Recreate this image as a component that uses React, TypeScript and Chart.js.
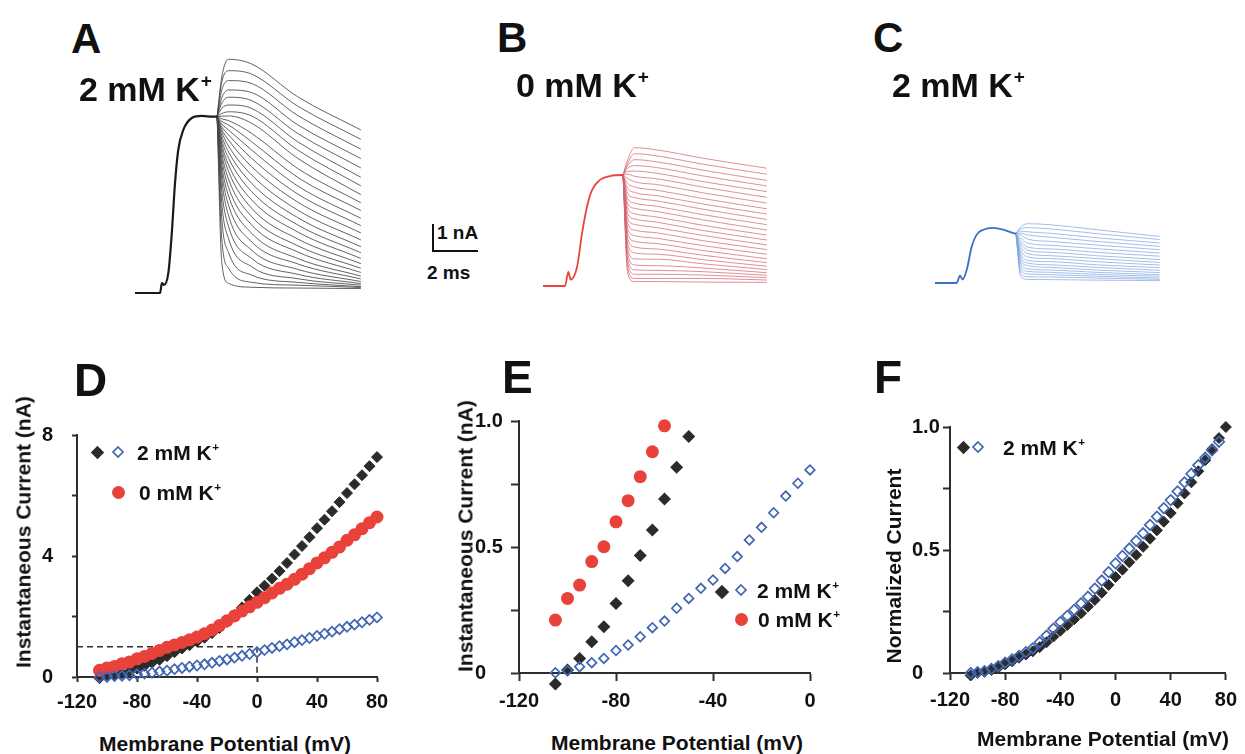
import React, { useEffect, useRef } from 'react';
import { Chart, registerables } from 'chart.js';

Chart.register(...registerables);

const FONT = '"Liberation Sans", Arial, Helvetica, sans-serif';
const INK = '#111111';
const AXIS = '#2e2e2e';
const BLACK = '#2b2b2b';
const RED = '#e8423b';
const BLUE = '#4066b4';

// ---------------- Panels A–C : current traces (time ms, current nA) ----------------
const tailDt = [0.2, 0.5, 1.5, 3.5, 6.25];

const aBaseT = [0, 1.09, 1.17, 1.26, 1.45, 1.6, 1.74, 1.88, 2.1, 2.47, 2.9, 3.39, 3.57];
const aBaseI = [0, 0, 0.38, 0.31, 0.77, 2.31, 4.23, 5.5, 6.27, 6.73, 6.81, 6.78, 6.78];
const aTail02 = [8.3, 8.1, 7.8, 7.5, 7.3, 7.1, 6.9, 6.8, 6.7, 6.6, 6.5, 6.4, 6.3, 6.2, 6.05, 5.9, 5.75, 5.6, 5.4, 5.2, 4.95, 4.7, 4.4, 4.0, 3.5, 2.9, 2.1, 1.2];
const aTail05 = [8.99, 8.55, 8.17, 7.81, 7.53, 7.23, 6.97, 6.81, 6.63, 6.46, 6.27, 6.08, 5.88, 5.65, 5.42, 5.18, 4.92, 4.67, 4.37, 4.06, 3.73, 3.37, 2.97, 2.55, 2.08, 1.55, 0.95, 0.37];
const aTail15 = [8.81, 8.42, 8.06, 7.71, 7.4, 7.1, 6.81, 6.53, 6.14, 5.82, 5.5, 5.18, 4.86, 4.54, 4.22, 3.9, 3.58, 3.26, 2.94, 2.62, 2.3, 1.97, 1.65, 1.33, 1.01, 0.69, 0.41, 0.22];
const aTail35 = [7.55, 7.19, 6.83, 6.47, 6.14, 5.82, 5.5, 5.18, 4.79, 4.45, 4.12, 3.81, 3.5, 3.19, 2.9, 2.62, 2.35, 2.08, 1.82, 1.58, 1.33, 1.12, 0.91, 0.72, 0.55, 0.41, 0.3, 0.19];
const aTailEnd = [6.27, 5.91, 5.53, 5.17, 4.81, 4.45, 4.12, 3.78, 3.47, 3.17, 2.87, 2.59, 2.31, 2.04, 1.78, 1.55, 1.33, 1.13, 0.95, 0.79, 0.65, 0.54, 0.44, 0.36, 0.3, 0.24, 0.21, 0.17];

const bBaseT = [0, 0.96, 1.1, 1.2, 1.48, 1.7, 1.91, 2.13, 2.48, 2.91, 3.43, 3.48];
const bBaseI = [0, 0, 0.54, 0.25, 0.73, 2.04, 3.04, 3.69, 4.08, 4.23, 4.27, 4.27];
const bTail02 = [4.85, 4.72, 4.63, 4.53, 4.4, 4.3, 4.14, 3.95, 3.76, 3.56, 3.37, 3.18, 2.99, 2.8, 2.6, 2.41, 2.22, 2.03, 1.83, 1.64, 1.45, 1.26, 1.06, 0.87, 0.68, 0.49];
const bTail05 = [5.32, 5.09, 4.86, 4.63, 4.42, 4.22, 4.01, 3.81, 3.6, 3.4, 3.19, 2.99, 2.78, 2.58, 2.37, 2.15, 1.94, 1.72, 1.5, 1.27, 1.04, 0.81, 0.62, 0.45, 0.29, 0.17];
const bTail15 = [5.23, 5.0, 4.77, 4.55, 4.33, 4.12, 3.9, 3.68, 3.47, 3.27, 3.06, 2.86, 2.65, 2.45, 2.24, 2.04, 1.83, 1.63, 1.42, 1.22, 1.03, 0.78, 0.6, 0.45, 0.29, 0.17];
const bTail35 = [4.91, 4.68, 4.45, 4.23, 4.01, 3.8, 3.58, 3.36, 3.15, 2.95, 2.74, 2.54, 2.33, 2.13, 1.94, 1.74, 1.55, 1.36, 1.18, 1.01, 0.85, 0.69, 0.55, 0.42, 0.29, 0.15];
const bTailEnd = [4.53, 4.3, 4.06, 3.85, 3.63, 3.41, 3.19, 2.97, 2.77, 2.56, 2.36, 2.15, 1.96, 1.77, 1.58, 1.4, 1.22, 1.05, 0.9, 0.76, 0.63, 0.51, 0.41, 0.32, 0.23, 0.14];

const cBaseT = [0, 0.94, 1.09, 1.2, 1.38, 1.6, 1.81, 2.1, 2.53, 2.97, 3.4, 3.52];
const cBaseI = [0, 0, 0.28, 0.13, 0.51, 1.41, 1.86, 2.05, 2.12, 2.05, 1.92, 1.9];
const cTail02 = [2.15, 2.08, 2.0, 1.92, 1.85, 1.74, 1.64, 1.54, 1.41, 1.28, 1.15, 1.03, 0.9, 0.77, 0.64, 0.51, 0.38, 0.26];
const cTail05 = [2.28, 2.13, 1.97, 1.85, 1.69, 1.54, 1.38, 1.26, 1.13, 1.0, 0.87, 0.77, 0.67, 0.55, 0.45, 0.35, 0.24, 0.14];
const cTail15 = [2.24, 2.08, 1.91, 1.76, 1.6, 1.45, 1.31, 1.18, 1.05, 0.94, 0.82, 0.7, 0.6, 0.5, 0.41, 0.32, 0.23, 0.13];
const cTail35 = [2.05, 1.9, 1.74, 1.6, 1.46, 1.32, 1.18, 1.05, 0.94, 0.82, 0.7, 0.6, 0.5, 0.41, 0.33, 0.26, 0.19, 0.11];
const cTailEnd = [1.79, 1.67, 1.54, 1.41, 1.28, 1.15, 1.03, 0.9, 0.79, 0.69, 0.59, 0.49, 0.4, 0.32, 0.26, 0.19, 0.14, 0.09];

// trace axes ranges (ms, nA)
const TRACE_X = [-0.435, 10.435];
const TRACE_Y = [-0.462, 9.731];

// ---------------- Panels D–F : I–V relations ----------------
const dVolt = [-105, -100, -95, -90, -85, -80, -75, -70, -65, -60, -55, -50, -45, -40, -35, -30, -25, -20, -15, -10, -5, 0, 5, 10, 15, 20, 25, 30, 35, 40, 45, 50, 55, 60, 65, 70, 75, 80];
const dBlack2 = [-0.04, 0.01, 0.06, 0.12, 0.18, 0.28, 0.37, 0.47, 0.57, 0.69, 0.82, 0.94, 1.05, 1.17, 1.3, 1.45, 1.62, 1.82, 2.05, 2.3, 2.55, 2.8, 3.02, 3.25, 3.5, 3.77, 4.05, 4.33, 4.62, 4.92, 5.2, 5.48, 5.78, 6.08, 6.37, 6.67, 6.97, 7.27];
const dRed0 = [0.22, 0.3, 0.35, 0.44, 0.5, 0.6, 0.68, 0.78, 0.88, 0.98, 1.06, 1.14, 1.23, 1.32, 1.43, 1.55, 1.7, 1.86, 2.02, 2.18, 2.32, 2.47, 2.62, 2.78, 2.93, 3.07, 3.23, 3.4, 3.58, 3.77, 3.94, 4.12, 4.3, 4.52, 4.7, 4.9, 5.1, 5.29];
const dBlue2 = [0.0, 0.01, 0.03, 0.04, 0.06, 0.09, 0.11, 0.14, 0.18, 0.21, 0.26, 0.3, 0.34, 0.38, 0.42, 0.47, 0.53, 0.58, 0.64, 0.7, 0.76, 0.82, 0.89, 0.96, 1.02, 1.08, 1.15, 1.22, 1.29, 1.36, 1.43, 1.5, 1.58, 1.66, 1.73, 1.81, 1.89, 1.97];

const eVolt = [-105, -100, -95, -90, -85, -80, -75, -70, -65, -60, -55, -50, -45, -40, -35, -30, -25, -20, -15, -10, -5, 0];
const eBlack2 = [-0.044, 0.012, 0.058, 0.124, 0.184, 0.276, 0.366, 0.466, 0.567, 0.69, 0.816, 0.938];
const eRed0 = [0.21, 0.296, 0.349, 0.442, 0.501, 0.6, 0.684, 0.779, 0.878, 0.981];
const eBlue2 = [0.001, 0.009, 0.025, 0.041, 0.058, 0.089, 0.111, 0.144, 0.18, 0.206, 0.257, 0.296, 0.336, 0.369, 0.415, 0.462, 0.528, 0.578, 0.636, 0.702, 0.753, 0.806];
const E_X = [-120, 0];
const E_Y = [0, 1];

const fVolt = dVolt;
const fBlack2 = [-0.01, 0.0, 0.005, 0.012, 0.022, 0.035, 0.048, 0.062, 0.075, 0.088, 0.105, 0.125, 0.148, 0.172, 0.195, 0.218, 0.243, 0.27, 0.297, 0.326, 0.358, 0.39, 0.42, 0.45, 0.48, 0.513, 0.546, 0.58, 0.615, 0.65, 0.69, 0.73, 0.775, 0.82, 0.865, 0.91, 0.955, 1.0];
const fBlue2 = [0.0, 0.003, 0.008, 0.017, 0.028, 0.042, 0.055, 0.07, 0.085, 0.1, 0.125, 0.152, 0.18, 0.207, 0.232, 0.257, 0.283, 0.31, 0.343, 0.376, 0.41, 0.446, 0.476, 0.506, 0.537, 0.568, 0.602, 0.636, 0.67, 0.703, 0.738, 0.775, 0.81, 0.845, 0.875, 0.905, 0.94];

type Pt = { x: number; y: number };
const pts = (xs: number[], ys: number[]): Pt[] => ys.map((y, i) => ({ x: xs[i], y }));

function TracePanel(props: any) {
  const ref = useRef<HTMLCanvasElement | null>(null);
  useEffect(() => {
    const { baseT, baseI, tails } = props;
    const stepT = baseT[baseT.length - 1];
    const stepI = baseI[baseI.length - 1];
    const datasets: any[] = [
      {
        data: pts(baseT, baseI),
        showLine: true,
        borderColor: props.baseColor,
        borderWidth: props.baseWidth,
        pointRadius: 0,
        cubicInterpolationMode: 'monotone',
      },
    ];
    for (let k = 0; k < tails[0].length; k++) {
      datasets.push({
        data: [{ x: stepT, y: stepI }, ...tailDt.map((dt: number, j: number) => ({ x: stepT + dt, y: tails[j][k] }))],
        showLine: true,
        borderColor: props.tailColor,
        borderWidth: 1,
        pointRadius: 0,
        cubicInterpolationMode: 'monotone',
      });
    }
    const chart = new Chart(ref.current as HTMLCanvasElement, {
      type: 'scatter',
      data: { datasets },
      options: {
        animation: false,
        responsive: false,
        events: [],
        layout: { padding: 0 },
        plugins: { legend: { display: false }, tooltip: { enabled: false } },
        scales: {
          x: { type: 'linear', display: false, min: TRACE_X[0], max: TRACE_X[1] },
          y: { type: 'linear', display: false, min: TRACE_Y[0], max: TRACE_Y[1] },
        },
      } as any,
    });
    return () => chart.destroy();
  }, []);
  return (
    <canvas
      ref={ref}
      width={250}
      height={265}
      style={{ position: 'absolute', left: props.left, top: props.top, width: 250, height: 265 }}
    />
  );
}

function IVPanel(props: any) {
  const ref = useRef<HTMLCanvasElement | null>(null);
  useEffect(() => {
    const { width, height, area, labelLeft } = props;
    const tickFont = { family: FONT, size: 20, weight: 'bold' };
    const grid = { drawOnChartArea: false, drawTicks: true, tickLength: props.tickLen, tickColor: AXIS, tickWidth: 2 };
    const border = { display: true, color: AXIS, width: 2 };
    const chart = new Chart(ref.current as HTMLCanvasElement, {
      type: 'scatter',
      data: { datasets: props.datasets },
      options: {
        animation: false,
        responsive: false,
        events: [],
        layout: { padding: { left: labelLeft, top: area[1], right: width - area[2], bottom: 0 } },
        plugins: { legend: { display: false }, tooltip: { enabled: false } },
        scales: {
          x: {
            type: 'linear',
            min: -120,
            max: props.xMax,
            afterFit: (s: any) => { s.height = height - area[3]; },
            ticks: { stepSize: 40, autoSkip: false, maxRotation: 0, font: tickFont, color: INK, padding: props.xPad },
            grid,
            border,
          },
          y: {
            type: 'linear',
            min: 0,
            max: props.yMax,
            afterFit: (s: any) => { s.width = area[0] - labelLeft; },
            ticks: {
              stepSize: props.yStep,
              autoSkip: false,
              font: tickFont,
              color: INK,
              padding: props.yPad,
              crossAlign: props.yAlign,
              callback: (v: any) => props.yFmt(Number(v)),
            },
            grid,
            border,
          },
        },
      } as any,
    });
    return () => chart.destroy();
  }, []);
  return (
    <canvas
      ref={ref}
      width={props.width}
      height={props.height}
      style={{ position: 'absolute', left: props.left, top: props.top, width: props.width, height: props.height }}
    />
  );
}

const filledDiamond = (data: Pt[], r: number, reach = 1, edge = BLACK) => ({
  data, pointStyle: 'rectRot', pointRadius: r, pointBackgroundColor: BLACK, pointBorderColor: edge, pointBorderWidth: reach, clip: false,
});
const openDiamond = (data: Pt[], r: number) => ({
  data, pointStyle: 'rectRot', pointRadius: r, pointBackgroundColor: 'rgba(255,255,255,0)', pointBorderColor: BLUE, pointBorderWidth: 1.7, clip: false,
});
const redCircle = (data: Pt[], r: number) => ({
  data, pointStyle: 'circle', pointRadius: r, pointBackgroundColor: RED, pointBorderColor: RED, pointBorderWidth: 0, clip: false,
});

const Label = ({ x, capTop, size, children }: any) => (
  <div
    style={{
      position: 'absolute', left: x, top: capTop - 0.13 * size, fontFamily: FONT, fontWeight: 'bold',
      fontSize: size, lineHeight: 1, color: INK, whiteSpace: 'nowrap',
    }}
  >
    {children}
  </div>
);

const Title = ({ cx, cy, size, rotate, children }: any) => (
  <div
    style={{
      position: 'absolute', left: cx, top: cy, transform: `translate(-50%, -50%)${rotate ? ' rotate(-90deg)' : ''}`,
      fontFamily: FONT, fontWeight: 'bold', fontSize: size, lineHeight: 1, color: INK, whiteSpace: 'nowrap',
    }}
  >
    {children}
  </div>
);

const KPlus = ({ n }: any) => (
  <>
    {n} mM K
    <span style={{ fontSize: '0.56em', position: 'relative', top: '-0.72em', marginLeft: '0.04em' }}>+</span>
  </>
);

const Marker = ({ cx, cy, kind, r }: any) => {
  const s = r + 2;
  return (
    <svg style={{ position: 'absolute', left: cx - s, top: cy - s }} width={2 * s} height={2 * s}>
      {kind === 'circle' ? (
        <circle cx={s} cy={s} r={r} fill={RED} />
      ) : (
        <polygon
          points={`${s},${s - r} ${s + r},${s} ${s},${s + r} ${s - r},${s}`}
          fill={kind === 'filled' ? BLACK : 'none'}
          stroke={kind === 'filled' ? BLACK : BLUE}
          strokeWidth={1.7}
        />
      )}
    </svg>
  );
};

const LegendText = ({ x, cy, size, n }: any) => (
  <div
    style={{
      position: 'absolute', left: x, top: cy - 0.49 * size, fontFamily: FONT, fontWeight: 'bold',
      fontSize: size, lineHeight: 1, color: INK, whiteSpace: 'nowrap',
    }}
  >
    <KPlus n={n} />
  </div>
);

export default function App() {
  const dBox = pts([E_X[0], E_X[1], E_X[1]], [E_Y[1], E_Y[1], E_Y[0]]);
  const dDatasets = [
    openDiamond(pts(dVolt, dBlue2), 5),
    redCircle(pts(dVolt, dRed0), 6.5),
    filledDiamond(pts(dVolt, dBlack2), 5.5),
    { data: dBox, showLine: true, borderDash: [6, 4], borderColor: AXIS, borderWidth: 1.5, pointRadius: 0 },
  ];
  const eDatasets = [
    openDiamond(pts(eVolt, eBlue2), 4.8),
    redCircle(pts(eVolt, eRed0), 6.5),
    // transparent wide edge keeps the sub-zero point inside the drawing margin
    filledDiamond(pts(eVolt, eBlack2), 6.5, 7, 'rgba(0,0,0,0)'),
  ];
  const fDatasets = [
    openDiamond(pts(fVolt, fBlue2), 5.2),
    filledDiamond(pts(fVolt, fBlack2), 5.5),
  ];
  const fmtD = (v: number) => (v % 4 === 0 ? String(v) : '');
  const fmtN = (v: number) => (v === 0 ? '0' : v === 0.5 ? '0.5' : v === 1 ? '1.0' : '');

  return (
    <div style={{ position: 'absolute', left: 0, top: 0, width: 1245, height: 754, background: '#ffffff', overflow: 'hidden' }}>
      {/* Top: current traces */}
      <TracePanel left={125} top={40} baseT={aBaseT} baseI={aBaseI}
        tails={[aTail02, aTail05, aTail15, aTail35, aTailEnd]}
        baseColor="#1a1a1a" baseWidth={2.2} tailColor="rgba(70,70,70,0.85)" />
      <TracePanel left={533} top={33} baseT={bBaseT} baseI={bBaseI}
        tails={[bTail02, bTail05, bTail15, bTail35, bTailEnd]}
        baseColor="#e8453c" baseWidth={1.8} tailColor="rgba(210,100,112,0.72)" />
      <TracePanel left={925} top={30} baseT={cBaseT} baseI={cBaseI}
        tails={[cTail02, cTail05, cTail15, cTail35, cTailEnd]}
        baseColor="#3b6dc4" baseWidth={1.8} tailColor="rgba(125,162,222,0.7)" />

      <Label x={71} capTop={23} size={42}>A</Label>
      <Label x={497} capTop={22} size={42}>B</Label>
      <Label x={873} capTop={22} size={42}>C</Label>
      <Label x={79} capTop={76} size={34}><KPlus n={2} /></Label>
      <Label x={516} capTop={72} size={34}><KPlus n={0} /></Label>
      <Label x={892} capTop={72} size={34}><KPlus n={2} /></Label>

      {/* scale bar: 1 nA x 2 ms */}
      <div style={{ position: 'absolute', left: 432, top: 224, width: 2, height: 28, background: INK }} />
      <div style={{ position: 'absolute', left: 432, top: 250, width: 46, height: 2, background: INK }} />
      <Label x={437} capTop={225} size={19}>1 nA</Label>
      <Label x={427} capTop={265} size={19}>2 ms</Label>

      {/* Bottom: I-V plots */}
      <IVPanel left={0} top={395} width={400} height={330} area={[77, 40, 377, 282]} labelLeft={0}
        xMax={80} yMax={8} yStep={2} yFmt={fmtD} tickLen={5} xPad={8} yPad={19} yAlign="near" datasets={dDatasets} />
      <IVPanel left={430} top={381} width={420} height={340} area={[89, 40, 380, 292]} labelLeft={45}
        xMax={E_X[1]} yMax={E_Y[1]} yStep={0.25} yFmt={fmtN} tickLen={8} xPad={8} yPad={6} yAlign="far" datasets={eDatasets} />
      <IVPanel left={860} top={387} width={385} height={340} area={[90, 40, 373, 286]} labelLeft={52}
        xMax={80} yMax={1} yStep={0.25} yFmt={fmtN} tickLen={7} xPad={8} yPad={3} yAlign="far" datasets={fDatasets} />

      <Label x={74} capTop={363} size={46}>D</Label>
      <Label x={502} capTop={360} size={46}>E</Label>
      <Label x={874} capTop={360} size={46}>F</Label>

      <Title cx={23} cy={532} size={21} rotate>Instantaneous Current (nA)</Title>
      <Title cx={225} cy={743} size={21}>Membrane Potential (mV)</Title>
      <Title cx={465} cy={536} size={21} rotate>Instantaneous Current (nA)</Title>
      <Title cx={677} cy={742} size={21}>Membrane Potential (mV)</Title>
      <Title cx={893} cy={566} size={21} rotate>Normalized Current</Title>
      <Title cx={1103} cy={738} size={21}>Membrane Potential (mV)</Title>

      {/* Legends */}
      <Marker cx={97} cy={452} kind="filled" r={5.5} />
      <Marker cx={118} cy={452} kind="open" r={5} />
      <LegendText x={137} cy={452} size={21} n={2} />
      <Marker cx={118} cy={492} kind="circle" r={6.5} />
      <LegendText x={139} cy={492} size={21} n={0} />

      <Marker cx={722} cy={592} kind="filled" r={6} />
      <Marker cx={741} cy={590} kind="open" r={5} />
      <LegendText x={757} cy={590} size={21} n={2} />
      <Marker cx={741} cy={619} kind="circle" r={6.5} />
      <LegendText x={758} cy={619} size={21} n={0} />

      <Marker cx={963} cy={447} kind="filled" r={5.5} />
      <Marker cx={978} cy={447} kind="open" r={5} />
      <LegendText x={1003} cy={447} size={21} n={2} />
    </div>
  );
}
